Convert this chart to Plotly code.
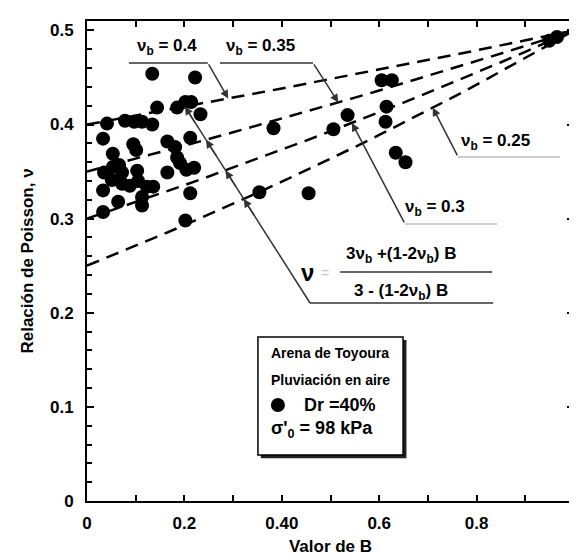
import plotly.graph_objects as go

# ---------------- data ----------------
B_vals = [0.134, 0.222, 0.144, 0.185, 0.202, 0.214, 0.233, 0.041, 0.078, 0.097,
          0.113, 0.134, 0.033, 0.095, 0.101, 0.053, 0.165, 0.212, 0.181, 0.185,
          0.191, 0.204, 0.220, 0.165, 0.035, 0.053, 0.066, 0.072, 0.103, 0.051,
          0.072, 0.088, 0.105, 0.123, 0.136, 0.033, 0.113, 0.113, 0.064, 0.033,
          0.212, 0.202, 0.354, 0.455, 0.383, 0.506, 0.535, 0.605, 0.626, 0.615,
          0.613, 0.634, 0.654, 0.949, 0.965]
nu_vals = [0.454, 0.450, 0.418, 0.418, 0.424, 0.424, 0.411, 0.401, 0.404, 0.403,
           0.403, 0.400, 0.385, 0.379, 0.373, 0.369, 0.382, 0.386, 0.376, 0.365,
           0.359, 0.352, 0.354, 0.349, 0.349, 0.355, 0.357, 0.349, 0.351, 0.341,
           0.337, 0.335, 0.340, 0.334, 0.334, 0.330, 0.323, 0.314, 0.318, 0.307,
           0.327, 0.298, 0.328, 0.327, 0.396, 0.395, 0.410, 0.447, 0.447, 0.419,
           0.403, 0.370, 0.360, 0.489, 0.493]

nu_b_list = [0.25, 0.30, 0.35, 0.40]
B_grid = [0.0, 0.05, 0.10, 0.15, 0.20, 0.25, 0.30, 0.35, 0.40, 0.45, 0.50,
          0.55, 0.60, 0.65, 0.70, 0.75, 0.80, 0.85, 0.90, 0.95, 1.0]

x_tickvals = [0, 0.2, 0.4, 0.6, 0.8]
x_ticktext = ["0", "0.2", "0.40", "0.6", "0.8"]
y_tickvals = [0, 0.1, 0.2, 0.3, 0.4, 0.5]
y_ticktext = ["0", "0.1", "0.2", "0.3", "0.4", "0.5"]


def nu_model(nb, B):
    return (3 * nb + (1 - 2 * nb) * B) / (3 - (1 - 2 * nb) * B)


FONT = "Liberation Sans, Arial, Helvetica, sans-serif"
fig = go.Figure()

for nb in nu_b_list:
    fig.add_trace(go.Scatter(
        x=B_grid, y=[nu_model(nb, b) for b in B_grid], mode="lines",
        line=dict(color="black", width=2.5, dash="13px,8px"),
        hoverinfo="skip", showlegend=False))

fig.add_trace(go.Scatter(
    x=B_vals, y=nu_vals, mode="markers",
    marker=dict(size=14, color="black", line=dict(width=0)),
    showlegend=False))

ann = []
shapes = []
LC = "#333333"


def line(x0, y0, x1, y1, color=LC, width=1.5):
    shapes.append(dict(type="line", xref="x", yref="y", x0=x0, y0=y0, x1=x1, y1=y1,
                       line=dict(color=color, width=width), layer="above"))


def arrow(tx, ty, hx, hy, color=LC):
    ann.append(dict(x=hx, y=hy, ax=tx, ay=ty, xref="x", yref="y", axref="x", ayref="y",
                    text="", showarrow=True, arrowhead=2, arrowsize=1.1,
                    arrowwidth=1.5, arrowcolor=color, standoff=0))


def label(x, y, text, size=17, xanchor="center", color="black"):
    ann.append(dict(x=x, y=y, xref="x", yref="y", text=text, showarrow=False,
                    xanchor=xanchor, yanchor="middle",
                    font=dict(family=FONT, size=size, color=color, weight="bold")))


# nu_b = 0.4 label
label(0.164, 0.4825, "ν<sub>b</sub> = 0.4")
line(0.086, 0.4655, 0.248, 0.4655)
arrow(0.248, 0.4655, 0.290, nu_model(0.40, 0.290))
# nu_b = 0.35 label
label(0.357, 0.4825, "ν<sub>b</sub> = 0.35")
line(0.273, 0.4655, 0.464, 0.4655)
arrow(0.464, 0.4655, 0.516, nu_model(0.35, 0.516))
# nu_b = 0.25 label
label(0.838, 0.3815, "ν<sub>b</sub> = 0.25")
line(0.762, 0.3656, 0.971, 0.3656, color="#bbbbbb")
arrow(0.762, 0.3656, 0.710, nu_model(0.25, 0.710))
# nu_b = 0.3 label
label(0.715, 0.3114, "ν<sub>b</sub> = 0.3")
line(0.653, 0.2944, 0.842, 0.2944, color="#bbbbbb")
arrow(0.653, 0.2944, 0.544, nu_model(0.30, 0.544))

# formula pointer line with arrowheads at each curve
bx, by = 0.458, 0.2104
tx, ty = 0.201, nu_model(0.40, 0.201)
line(bx, by, tx, ty)
line(bx, by, 0.834, by)
for nb in nu_b_list:
    lo, hi = 0.0, 1.0
    for _ in range(60):
        m = (lo + hi) / 2
        px, py = bx + m * (tx - bx), by + m * (ty - by)
        if py < nu_model(nb, px):
            lo = m
        else:
            hi = m
    t = (lo + hi) / 2
    hx, hy = bx + t * (tx - bx), by + t * (ty - by)
    t2 = t - 0.09
    arrow(bx + t2 * (tx - bx), by + t2 * (ty - by), hx, hy)

# formula
label(0.645, 0.2614, "3ν<sub>b</sub> +(1-2ν<sub>b</sub>) B", size=17)
label(0.645, 0.2221, "3 - (1-2ν<sub>b</sub>) B", size=17)
line(0.520, 0.2434, 0.832, 0.2434, color="#333333", width=1.5)
label(0.452, 0.2430, "ν", size=24)
ann.append(dict(x=0.489, y=0.2420, xref="x", yref="y", text="=", showarrow=False,
                font=dict(family=FONT, size=14, color="#c8c8c8")))

# legend-like info box
shapes.append(dict(type="rect", xref="x", yref="y", x0=0.357, y0=0.0455, x1=0.656, y1=0.1710,
                   fillcolor="#222222", line=dict(width=0), layer="above"))
shapes.append(dict(type="rect", xref="x", yref="y", x0=0.351, y0=0.0489, x1=0.649, y1=0.1743,
                   fillcolor="white", line=dict(color="black", width=1.5), layer="above"))
label(0.499, 0.157, "Arena de Toyoura", size=14)
label(0.499, 0.1286, "Pluviación en aire", size=14)
shapes.append(dict(type="circle", xref="x", yref="y", x0=0.392 - 0.0144, x1=0.392 + 0.0144,
                   y0=0.102 - 0.0075, y1=0.102 + 0.0075, fillcolor="black",
                   line=dict(width=0), layer="above"))
label(0.441, 0.102, "Dr =40%", size=18, xanchor="left")
label(0.374, 0.0755, "σ'<sub>0</sub> = 98 kPa", size=18, xanchor="left")

axis_common = dict(showline=True, linecolor="black", linewidth=2, mirror="ticks",
                   ticks="inside", tickcolor="black", tickwidth=1.5,
                   showgrid=False, zeroline=False, automargin=False,
                   tickfont=dict(family=FONT, size=17, color="black", weight="bold"))

# page body has an 8px margin, so the figure is 8px smaller and its margins shifted
fig.update_layout(
    width=569, height=552,
    margin=dict(l=79, r=3, t=13, b=59),
    paper_bgcolor="white", plot_bgcolor="white",
    annotations=ann, shapes=shapes,
    xaxis=dict(range=[0, 1.0], tickvals=x_tickvals, ticktext=x_ticktext, ticklen=6,
               ticklabelstandoff=6,
               minor=dict(dtick=0.1, ticks="inside", ticklen=6, tickcolor="black", tickwidth=1.5),
               title=dict(text="Valor de B", standoff=8,
                          font=dict(family=FONT, size=17, color="black", weight="bold")),
               **axis_common),
    yaxis=dict(range=[0, 0.51], tickvals=y_tickvals, ticktext=y_ticktext, ticklen=7,
               ticklabelstandoff=8,
               minor=dict(dtick=0.02, ticks="inside", ticklen=5, tickcolor="black", tickwidth=1.5),
               title=dict(text="Relación de Poisson, ν", standoff=12,
                          font=dict(family=FONT, size=17, color="black", weight="bold")),
               **axis_common),
)

fig.write_html("out.html")
